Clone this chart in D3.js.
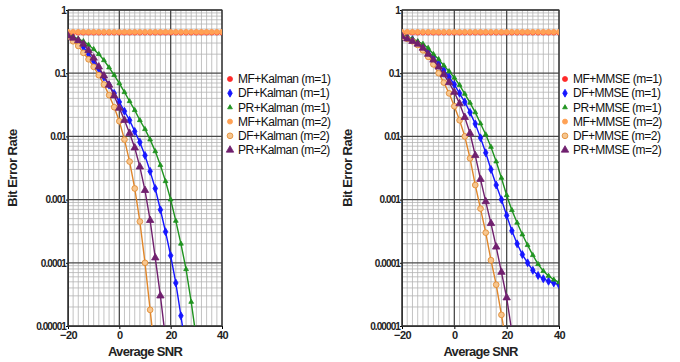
<!DOCTYPE html>
<html>
<head>
<meta charset="utf-8">
<script src="https://cdn.jsdelivr.net/npm/d3@7/dist/d3.min.js"></script>
<style>
  body { margin: 0; background: #fff; }
  text { font-family: "Liberation Sans", Arial, sans-serif; }
</style>
</head>
<body>
<svg id="chart" width="680" height="362"></svg>
<script>
// SNR points (dB) shared by every curve; shorter arrays leave the plot at the bottom
const snr = [-20, -18, -16, -14, -12, -10, -8, -6, -4, -2, 0, 2, 4, 6, 8, 10,
             12, 14, 16, 18, 20, 22, 24, 26, 28, 30, 32, 34, 36, 38, 40];
const xTicks = [-20, 0, 20, 40];
const yTicks = [1, 0.1, 0.01, 0.001, 0.0001, 0.00001];
const yTickLabels = ["1", "0.1", "0.01", "0.001", "0.0001", "0.00001"];

// left panel: Kalman
const mfKalman1 = [0.44, 0.44, 0.44, 0.44, 0.44, 0.44, 0.44, 0.44, 0.44, 0.44, 0.44, 0.44, 0.44, 0.44, 0.44, 0.44,
                   0.44, 0.44, 0.44, 0.44, 0.44, 0.44, 0.44, 0.44, 0.44, 0.44, 0.44, 0.44, 0.44, 0.44, 0.44];
const dfKalman1 = [3.9e-1, 3.5e-1, 3.1e-1, 2.6e-1, 2.0e-1, 1.55e-1, 1.17e-1, 8.7e-2, 6.5e-2, 4.8e-2, 3.5e-2,
                   2.5e-2, 1.8e-2, 1.2e-2, 8.1e-3, 5.0e-3, 2.8e-3, 1.5e-3, 6.9e-4, 3.1e-4, 1.3e-4, 4.8e-5,
                   1.45e-5, 4.0e-6];
const prKalman1 = [4.1e-1, 3.8e-1, 3.5e-1, 3.2e-1, 2.8e-1, 2.4e-1, 2.0e-1, 1.6e-1, 1.23e-1, 9.3e-2, 6.9e-2,
                   5.0e-2, 3.6e-2, 2.6e-2, 1.8e-2, 1.3e-2, 8.9e-3, 5.8e-3, 3.5e-3, 1.95e-3, 1.0e-3, 4.6e-4,
                   2.0e-4, 7.9e-5, 2.4e-5, 6.3e-6];
const mfKalman2 = [0.45, 0.45, 0.45, 0.45, 0.45, 0.45, 0.45, 0.45, 0.45, 0.45, 0.45, 0.45, 0.45, 0.45, 0.45, 0.45,
                   0.45, 0.45, 0.45, 0.45, 0.45, 0.45, 0.45, 0.45, 0.45, 0.45, 0.45, 0.45, 0.45, 0.45, 0.45];
const dfKalman2 = [3.8e-1, 3.2e-1, 2.7e-1, 2.1e-1, 1.66e-1, 1.26e-1, 9.3e-2, 6.6e-2, 4.5e-2, 2.9e-2, 1.74e-2,
                   8.9e-3, 4.0e-3, 1.5e-3, 4.5e-4, 1.0e-4, 1.8e-5, 3.2e-6];
const prKalman2 = [3.9e-1, 3.6e-1, 3.3e-1, 2.9e-1, 2.3e-1, 1.74e-1, 1.26e-1, 9.1e-2, 6.5e-2, 4.4e-2, 2.8e-2,
                   1.8e-2, 1.12e-2, 6.6e-3, 3.3e-3, 1.4e-3, 4.7e-4, 1.2e-4, 3.0e-5, 6.3e-6];

// right panel: MMSE
const mfMmse1 = [0.44, 0.44, 0.44, 0.44, 0.44, 0.44, 0.44, 0.44, 0.44, 0.44, 0.44, 0.44, 0.44, 0.44, 0.44, 0.44,
                 0.44, 0.44, 0.44, 0.44, 0.44, 0.44, 0.44, 0.44, 0.44, 0.44, 0.44, 0.44, 0.44, 0.44, 0.44];
const dfMmse1 = [3.9e-1, 3.7e-1, 3.4e-1, 3.0e-1, 2.6e-1, 2.2e-1, 1.78e-1, 1.41e-1, 1.12e-1, 8.7e-2, 6.6e-2,
                 4.8e-2, 3.5e-2, 2.4e-2, 1.58e-2, 9.5e-3, 5.5e-3, 3.0e-3, 1.7e-3, 1.0e-3, 5.6e-4, 3.2e-4,
                 2.0e-4, 1.35e-4, 1.0e-4, 7.6e-5, 6.3e-5, 5.6e-5, 5.1e-5, 4.8e-5, 4.5e-5];
const prMmse1 = [4.0e-1, 3.8e-1, 3.5e-1, 3.2e-1, 2.9e-1, 2.5e-1, 2.0e-1, 1.66e-1, 1.32e-1, 1.07e-1, 8.5e-2,
                 6.5e-2, 4.7e-2, 3.4e-2, 2.4e-2, 1.6e-2, 1.07e-2, 6.8e-3, 4.0e-3, 2.2e-3, 1.17e-3, 6.8e-4,
                 4.3e-4, 2.8e-4, 1.9e-4, 1.32e-4, 9.5e-5, 7.4e-5, 6.2e-5, 5.4e-5, 4.9e-5];
const mfMmse2 = [0.45, 0.45, 0.45, 0.45, 0.45, 0.45, 0.45, 0.45, 0.45, 0.45, 0.45, 0.45, 0.45, 0.45, 0.45, 0.45,
                 0.45, 0.45, 0.45, 0.45, 0.45, 0.45, 0.45, 0.45, 0.45, 0.45, 0.45, 0.45, 0.45, 0.45, 0.45];
const dfMmse2 = [3.8e-1, 3.5e-1, 3.2e-1, 2.8e-1, 2.3e-1, 1.82e-1, 1.38e-1, 1.0e-1, 7.1e-2, 4.8e-2, 3.0e-2,
                 1.8e-2, 1.0e-2, 4.5e-3, 1.7e-3, 7.2e-4, 3.0e-4, 1.1e-4, 4.5e-5, 1.5e-5, 5.0e-6];
const prMmse2 = [3.8e-1, 3.5e-1, 3.2e-1, 2.9e-1, 2.5e-1, 2.0e-1, 1.62e-1, 1.26e-1, 9.5e-2, 7.1e-2, 5.0e-2,
                 3.3e-2, 2.0e-2, 1.12e-2, 5.0e-3, 2.1e-3, 9.3e-4, 4.2e-4, 1.78e-4, 7.1e-5, 2.8e-5, 8.0e-6];

const kalmanNames = ["MF+Kalman (m=1)", "DF+Kalman (m=1)", "PR+Kalman (m=1)",
                     "MF+Kalman (m=2)", "DF+Kalman (m=2)", "PR+Kalman (m=2)"];
const mmseNames = ["MF+MMSE (m=1)", "DF+MMSE (m=1)", "PR+MMSE (m=1)",
                   "MF+MMSE (m=2)", "DF+MMSE (m=2)", "PR+MMSE (m=2)"];

// marker look for each of the six series, in legend order
const styles = [
    { color: "#ff2a2a", fill: "#ff2a2a", symbol: d3.symbolCircle, size: 20 },
    { color: "#1515ff", fill: "#1515ff", symbol: d3.symbolDiamond, size: 18 },
    { color: "#1f931f", fill: "#1f931f", symbol: d3.symbolTriangle, size: 10 },
    { color: "#ffa154", fill: "#ffa154", symbol: d3.symbolCircle, size: 20 },
    { color: "#e0862a", fill: "#f6c58e", symbol: d3.symbolCircle, size: 26 },
    { color: "#70206e", fill: "#70206e", symbol: d3.symbolTriangle, size: 24 }
];

const svg = d3.select("#chart");

function panel(opts) {
    var x = d3.scaleLinear().domain([-20, 40]).range([opts.left, opts.right]);
    var y = d3.scaleLog().domain([1e-5, 1]).range([opts.bottom, opts.top]);
    var g = svg.append("g");

    var clipId = "clip" + opts.left;
    g.append("clipPath").attr("id", clipId)
        .append("rect")
        .attr("x", opts.left).attr("y", opts.top)
        .attr("width", opts.right - opts.left).attr("height", opts.bottom - opts.top);

    // minor grid
    var minorY = [];
    [1e-5, 1e-4, 1e-3, 1e-2, 1e-1].forEach(d => {
        for (var k = 2; k <= 9; k++) minorY.push(k * d);
    });
    g.append("g").selectAll("line").data(minorY).join("line")
        .attr("x1", opts.left).attr("x2", opts.right)
        .attr("y1", d => y(d)).attr("y2", d => y(d))
        .attr("stroke", "#b4b4b4").attr("stroke-width", 0.8);
    g.append("g").selectAll("line").data(snr.filter(d => xTicks.indexOf(d) < 0)).join("line")
        .attr("x1", d => x(d)).attr("x2", d => x(d))
        .attr("y1", opts.top).attr("y2", opts.bottom)
        .attr("stroke", "#b4b4b4").attr("stroke-width", 0.8);

    // major grid
    g.append("g").selectAll("line").data(yTicks).join("line")
        .attr("x1", opts.left).attr("x2", opts.right)
        .attr("y1", d => y(d)).attr("y2", d => y(d))
        .attr("stroke", "#4a4a4a").attr("stroke-width", 1.3);
    g.append("g").selectAll("line").data(xTicks).join("line")
        .attr("x1", d => x(d)).attr("x2", d => x(d))
        .attr("y1", opts.top).attr("y2", opts.bottom)
        .attr("stroke", "#4a4a4a").attr("stroke-width", 1.3);

    // axes
    var xAxis = g.append("g")
        .attr("transform", `translate(0,${opts.bottom})`)
        .call(d3.axisBottom(x).tickValues(xTicks).tickSize(3).tickFormat(d3.format("d")));
    xAxis.select(".domain").attr("stroke", "#333");
    xAxis.selectAll("text").attr("font-size", 11).attr("font-weight", "bold")
        .attr("letter-spacing", "-0.6").attr("dy", "0.6em").attr("fill", "#222");

    var yAxis = g.append("g")
        .attr("transform", `translate(${opts.left},0)`)
        .call(d3.axisLeft(y).tickValues(yTicks).tickSize(2).tickFormat((d, i) => yTickLabels[i]));
    yAxis.select(".domain").attr("stroke", "#333");
    yAxis.selectAll("text").attr("font-size", 10).attr("font-weight", "bold")
        .attr("letter-spacing", "-0.9").attr("fill", "#222").attr("dx", "0.3em");

    g.append("rect")
        .attr("x", opts.left).attr("y", opts.top)
        .attr("width", opts.right - opts.left).attr("height", opts.bottom - opts.top)
        .attr("fill", "none").attr("stroke", "#333").attr("stroke-width", 1);

    // titles
    g.append("text")
        .attr("x", (opts.left + opts.right) / 2).attr("y", 356)
        .attr("text-anchor", "middle").attr("font-size", 13).attr("font-weight", "bold")
        .attr("letter-spacing", "-0.7").attr("fill", "#222")
        .text("Average SNR");
    g.append("text")
        .attr("transform", `translate(${opts.titleX},${(opts.top + opts.bottom) / 2}) rotate(-90)`)
        .attr("text-anchor", "middle").attr("font-size", 13).attr("font-weight", "bold")
        .attr("letter-spacing", "-0.5").attr("fill", "#222")
        .text("Bit Error Rate");

    // curves
    var line = d3.line().x((d, i) => x(snr[i])).y(d => y(d));
    var plot = g.append("g").attr("clip-path", `url(#${clipId})`);
    opts.series.forEach((values, k) => {
        var s = styles[k];
        plot.append("path").datum(values)
            .attr("d", line)
            .attr("fill", "none").attr("stroke", s.color).attr("stroke-width", 1.4);
        plot.append("g").selectAll("path").data(values).join("path")
            .attr("transform", (d, i) => `translate(${x(snr[i])},${y(d)})`)
            .attr("d", d3.symbol(s.symbol, s.size))
            .attr("fill", s.fill).attr("stroke", s.color).attr("stroke-width", 0.8);
    });

    // legend
    var leg = g.append("g").selectAll("g").data(opts.names).join("g")
        .attr("transform", (d, i) => `translate(${opts.legendX},${79 + i * 14.2})`);
    leg.append("path")
        .attr("d", (d, i) => d3.symbol(styles[i].symbol, styles[i].size)())
        .attr("fill", (d, i) => styles[i].fill)
        .attr("stroke", (d, i) => styles[i].color).attr("stroke-width", 0.8);
    leg.append("text")
        .attr("x", 8).attr("dy", "0.35em")
        .attr("font-size", 12).attr("letter-spacing", "-0.5").attr("fill", "#111")
        .text(d => d);
}

panel({
    left: 68, right: 222, top: 10, bottom: 326, titleX: 17, legendX: 230,
    series: [mfKalman1, dfKalman1, prKalman1, mfKalman2, dfKalman2, prKalman2],
    names: kalmanNames
});
panel({
    left: 402, right: 559, top: 10, bottom: 326, titleX: 352, legendX: 565,
    series: [mfMmse1, dfMmse1, prMmse1, mfMmse2, dfMmse2, prMmse2],
    names: mmseNames
});
</script>
</body>
</html>
